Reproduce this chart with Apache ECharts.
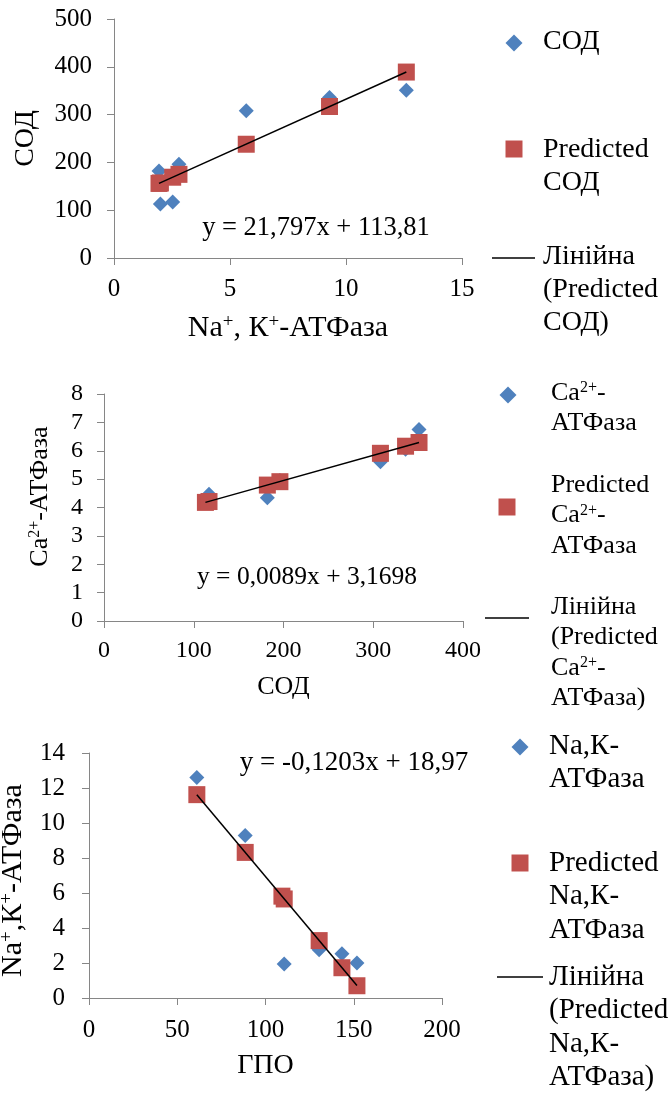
<!DOCTYPE html>
<html><head><meta charset="utf-8">
<script src="https://cdn.jsdelivr.net/npm/echarts@6/dist/echarts.min.js"></script>
<style>html,body{margin:0;padding:0;background:#fff}#c{width:670px;height:1093px}</style>
</head><body><div id="c"></div>
<script>
// ---------- Chart 1: СОД vs Na+,K+-АТФаза ----------
const naK1 = [1.94, 2.0, 2.53, 2.8, 5.7, 9.29, 12.6];
const sod1 = [182, 113, 117, 196, 308, 336, 351];
const predSod1 = [156, 157, 169, 175, 238, 317, 389];
const trendX1 = [1.94, 12.6];
const trendY1 = [156, 389];
const xTicks1 = [0, 5, 10, 15];
const yTicks1 = [0, 100, 200, 300, 400, 500];
const eq1 = 'y = 21,797x + 113,81';

// ---------- Chart 2: Ca2+-АТФаза vs СОД ----------
const sod2 = [113, 117, 182, 196, 308, 336, 351];
const ca2 = [4.3, 4.47, 4.34, 4.95, 5.61, 6.05, 6.75];
const predCa2 = [4.18, 4.21, 4.79, 4.91, 5.91, 6.16, 6.29];
const trendX2 = [113, 351];
const trendY2 = [4.18, 6.29];
const xTicks2 = [0, 100, 200, 300, 400];
const yTicks2 = [0, 1, 2, 3, 4, 5, 6, 7, 8];
const eq2 = 'y = 0,0089x + 3,1698';

// ---------- Chart 3: Na+,K+-АТФаза vs ГПО ----------
const gpo3 = [61.1, 88.5, 109.3, 110.6, 130.4, 143.3, 151.8];
const naK3 = [12.6, 9.29, 5.7, 1.94, 2.76, 2.53, 2.0];
const predNaK3 = [11.62, 8.32, 5.82, 5.66, 3.28, 1.73, 0.70];
const trendX3 = [61.1, 151.8];
const trendY3 = [11.62, 0.71];
const xTicks3 = [0, 50, 100, 150, 200];
const yTicks3 = [0, 2, 4, 6, 8, 10, 12, 14];
const eq3 = 'y = -0,1203x + 18,97';

const F = 'Liberation Serif';
const BLUE = '#4F81BD', RED = '#C0504D', AX = '#868686';

function pairs(xs, ys) { return xs.map((x, i) => [x, ys[i]]); }
function sup(fs) {
  return { s: { fontFamily: F, fontSize: Math.round(fs * 0.62), color: '#000', fill: '#000', verticalAlign: 'top', lineHeight: Math.round(fs * 0.6) } };
}
function axis(gi, ticks, name, nameGap, labelSize, margin, nameSize, pad) {
  return {
    type: 'value', gridIndex: gi,
    min: ticks[0], max: ticks[ticks.length - 1], interval: ticks[1] - ticks[0],
    splitLine: { show: false },
    axisLine: { show: true, onZero: false, lineStyle: { color: AX, width: 1 } },
    axisTick: { show: true, inside: false, length: 7, lineStyle: { color: AX, width: 1 } },
    axisLabel: { fontFamily: F, fontSize: labelSize, color: '#000', margin: margin, showMinLabel: true, showMaxLabel: true, hideOverlap: false },
    name: name, nameLocation: 'middle', nameGap: nameGap,
    nameTextStyle: { fontFamily: F, fontSize: nameSize, color: '#000', rich: sup(nameSize), padding: pad || 0 }
  };
}
function scatterSeries(gi, name, data, symbol, size, color, z) {
  return { type: 'scatter', name, xAxisIndex: gi, yAxisIndex: gi, data, symbol, symbolSize: size,
    itemStyle: { color, opacity: 1 }, z, silent: true };
}
function trendSeries(gi, name, data) {
  return { type: 'line', name, xAxisIndex: gi, yAxisIndex: gi, data, symbol: 'none',
    lineStyle: { color: '#000', width: 1.5 }, z: 5, silent: true };
}

// legend drawing (graphic)
const graphic = [];
function txt(x, y, text, fs, align) {
  graphic.push({ type: 'text', x, y, silent: true, style: { text, fontFamily: F, fontSize: fs, fill: '#000',
    align: align || 'left', verticalAlign: 'middle', rich: sup(fs) } });
}
function lines(x, y0, lh, arr, fs) { arr.forEach((t, i) => txt(x, y0 + i * lh, t, fs)); }
function diamond(cx, cy, s) {
  graphic.push({ type: 'polygon', silent: true, shape: { points: [[cx, cy - s / 2], [cx + s / 2, cy], [cx, cy + s / 2], [cx - s / 2, cy]] }, style: { fill: BLUE } });
}
function square(cx, cy, s) {
  graphic.push({ type: 'rect', silent: true, shape: { x: cx - s / 2, y: cy - s / 2, width: s, height: s }, style: { fill: RED } });
}
function hline(x1, x2, y) {
  graphic.push({ type: 'line', silent: true, shape: { x1, y1: y, x2, y2: y }, style: { stroke: '#000', lineWidth: 1.5 } });
}

// Chart 1 legend
diamond(514, 43, 17); lines(543, 42, 33, ['СОД'], 28);
square(514, 149, 17); lines(543, 150, 33, ['Predicted', 'СОД'], 28);
hline(492, 535, 258); lines(543, 257, 33, ['Лінійна', '(Predicted', 'СОД)'], 28);
// Chart 2 legend
diamond(508, 395, 17); lines(551, 393, 30.5, ['Ca{s|2+}-', 'АТФаза'], 26);
square(507, 507, 17); lines(551, 485, 30.5, ['Predicted', 'Ca{s|2+}-', 'АТФаза'], 26);
hline(485, 529, 618); lines(551, 607, 30.5, ['Лінійна', '(Predicted', 'Ca{s|2+}-', 'АТФаза)'], 26);
// Chart 3 legend
diamond(520, 747, 17); lines(549, 746, 33.5, ['Na,К-', 'АТФаза'], 29);
square(520, 863, 17); lines(549, 863, 33.5, ['Predicted', 'Na,К-', 'АТФаза'], 29);
hline(497, 543, 977); lines(549, 977, 33.5, ['Лінійна', '(Predicted', 'Na,К-', 'АТФаза)'], 29);
// trendline equations
txt(316, 228, eq1, 26.5, 'center');
txt(307, 577, eq2, 25.5, 'center');
txt(354, 763, eq3, 27, 'center');

const chart = echarts.init(document.getElementById('c'), null, { renderer: 'canvas' });
chart.setOption({
  animation: false,
  backgroundColor: '#fff',
  grid: [
    { left: 114, top: 19, width: 348, height: 239, outerBoundsMode: 'none' },
    { left: 104, top: 394, width: 359, height: 227, outerBoundsMode: 'none' },
    { left: 89, top: 753, width: 353, height: 245, outerBoundsMode: 'none' }
  ],
  xAxis: [
    axis(0, xTicks1, 'Na{s|+}, К{s|+}-АТФаза', 55, 25, 19, 30),
    axis(1, xTicks2, 'СОД', 53, 24, 18, 26),
    axis(2, xTicks3, 'ГПО', 54, 25, 20, 28)
  ],
  yAxis: [
    axis(0, yTicks1, 'СОД', 74, 25, 22, 28),
    axis(1, yTicks2, 'Ca{s|2+}-АТФаза', 51, 24, 21, 26, [0, 0, 0, 22]),
    axis(2, yTicks3, 'Na{s|+},К{s|+}-АТФаза', 61, 25, 24, 30, [0, 10, 0, 0])
  ],
  series: [
    scatterSeries(0, 'СОД', pairs(naK1, sod1), 'diamond', 15, BLUE, 2),
    scatterSeries(0, 'Predicted СОД', pairs(naK1, predSod1), 'rect', 17, RED, 3),
    trendSeries(0, 'Лінійна (Predicted СОД)', pairs(trendX1, trendY1)),
    scatterSeries(1, 'Ca2+-АТФаза', pairs(sod2, ca2), 'diamond', 15, BLUE, 2),
    scatterSeries(1, 'Predicted Ca2+-АТФаза', pairs(sod2, predCa2), 'rect', 17, RED, 3),
    trendSeries(1, 'Лінійна (Predicted Ca2+-АТФаза)', pairs(trendX2, trendY2)),
    scatterSeries(2, 'Na,К-АТФаза', pairs(gpo3, naK3), 'diamond', 15, BLUE, 2),
    scatterSeries(2, 'Predicted Na,К-АТФаза', pairs(gpo3, predNaK3), 'rect', 17, RED, 3),
    trendSeries(2, 'Лінійна (Predicted Na,К-АТФаза)', pairs(trendX3, trendY3))
  ],
  graphic: graphic
});
</script></body></html>
